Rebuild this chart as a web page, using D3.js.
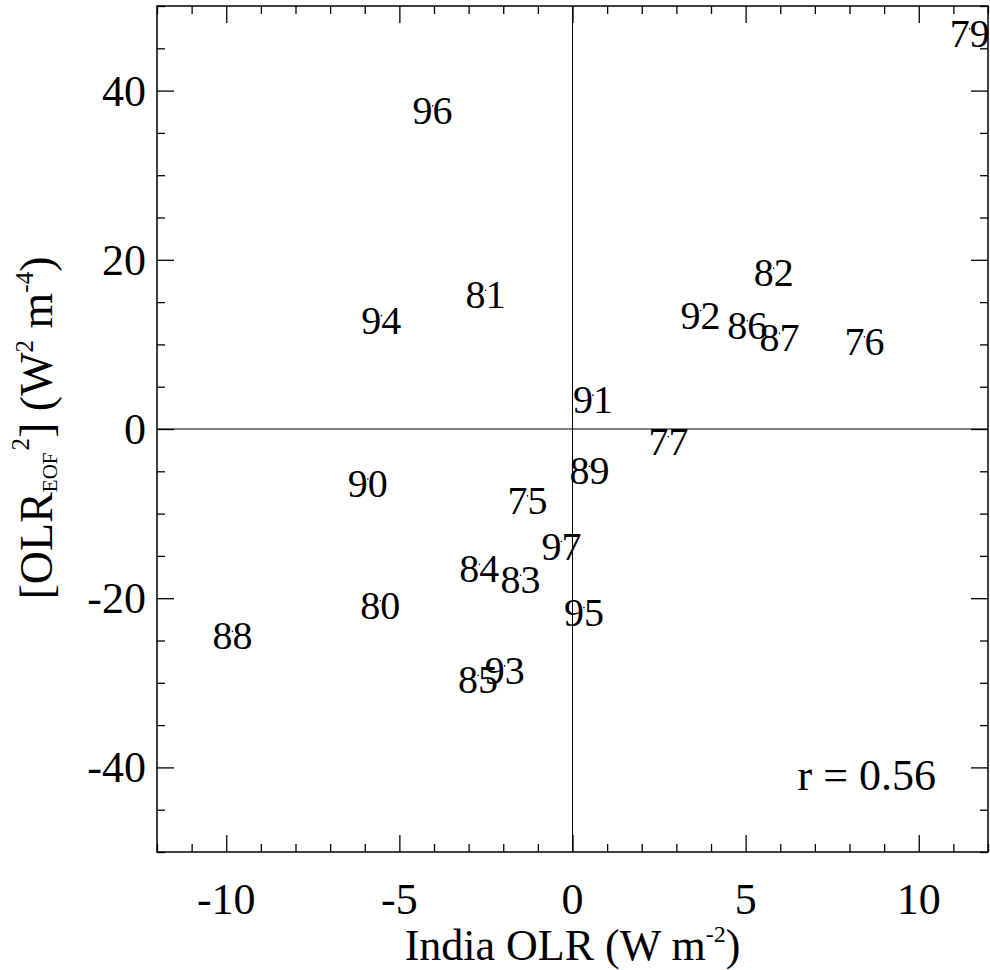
<!DOCTYPE html>
<html>
<head>
<meta charset="utf-8">
<script src="https://cdn.jsdelivr.net/npm/d3@7"></script>
<style>
  body { margin: 0; background: #fff; }
  svg text { font-family: "Liberation Serif", "DejaVu Serif", serif; fill: #000; }
</style>
</head>
<body>
<div id="chart"></div>
<script>
// years, India OLR anomaly (x) and [OLR_EOF^2] (y)
var years = ["75", "76", "77", "79", "80", "81", "82", "83", "84", "85", "86", "87", "88",
             "89", "90", "91", "92", "93", "94", "95", "96", "97"];
var indiaOLR = [-1.30, 8.43, 2.77, 11.47, -5.55, -2.51, 5.81, -1.50, -2.69, -2.73, 5.05, 5.98, -9.82,
                0.49, -5.91, 0.59, 3.70, -1.96, -5.52, 0.33, -4.04, -0.32];
var eofOLR = [-7.9, 10.9, -0.9, 47.3, -20.3, 16.4, 19.0, -17.3, -16.0, -29.1, 12.8, 11.3, -23.9,
              -4.4, -5.9, 4.0, 14.0, -28.0, 13.4, -21.1, 38.2, -13.3];
var xTicks = [-10, -5, 0, 5, 10];
var yTicks = [-40, -20, 0, 20, 40];
var corrText = "r = 0.56";

var width = 990,
    height = 970;
var plotL = 157, plotR = 988, plotT = 6, plotB = 852;

var svg = d3.select("#chart").append("svg")
    .attr("width", width)
    .attr("height", height);

var x = d3.scaleLinear().domain([-12, 12]).range([plotL, plotR]);
var y = d3.scaleLinear().domain([-50, 50]).range([plotB, plotT]);

var minorX = d3.range(-12, 13, 1).filter(function (d) { return d % 5 !== 0; });
var minorY = d3.range(-50, 51, 5).filter(function (d) { return d % 20 !== 0; });

// zero lines
svg.append("line")
    .attr("x1", x(0)).attr("x2", x(0))
    .attr("y1", plotT).attr("y2", plotB)
    .attr("stroke", "#000").attr("stroke-width", 1);
svg.append("line")
    .attr("x1", plotL).attr("x2", plotR)
    .attr("y1", y(0)).attr("y2", y(0))
    .attr("stroke", "#000").attr("stroke-width", 1);

// ticks (inward) on all four sides
function tickAxis(axis, tr) {
    var g = svg.append("g").attr("transform", tr).call(axis);
    g.select(".domain").remove();
    g.selectAll("line").attr("stroke", "#000").attr("stroke-width", 1.3);
    g.selectAll("text").remove();
    return g;
}
tickAxis(d3.axisBottom(x).tickValues(xTicks).tickSize(-17), "translate(0," + plotB + ")");
tickAxis(d3.axisBottom(x).tickValues(minorX).tickSize(-8), "translate(0," + plotB + ")");
tickAxis(d3.axisTop(x).tickValues(xTicks).tickSize(-17), "translate(0," + plotT + ")");
tickAxis(d3.axisTop(x).tickValues(minorX).tickSize(-8), "translate(0," + plotT + ")");
tickAxis(d3.axisLeft(y).tickValues(yTicks).tickSize(-17), "translate(" + plotL + ",0)");
tickAxis(d3.axisLeft(y).tickValues(minorY).tickSize(-8), "translate(" + plotL + ",0)");
tickAxis(d3.axisRight(y).tickValues(yTicks).tickSize(-17), "translate(" + plotR + ",0)");
tickAxis(d3.axisRight(y).tickValues(minorY).tickSize(-8), "translate(" + plotR + ",0)");

// frame
svg.append("rect")
    .attr("x", plotL).attr("y", plotT)
    .attr("width", plotR - plotL).attr("height", plotB - plotT)
    .attr("fill", "none").attr("stroke", "#000").attr("stroke-width", 1.5);

// tick labels
svg.append("g").selectAll("text")
    .data(xTicks)
    .enter().append("text")
    .attr("x", function (d) { return x(d); })
    .attr("y", 914)
    .attr("text-anchor", "middle")
    .attr("font-size", 44)
    .text(function (d) { return d; });
svg.append("g").selectAll("text")
    .data(yTicks)
    .enter().append("text")
    .attr("x", 146)
    .attr("y", function (d) { return y(d) + 15; })
    .attr("text-anchor", "end")
    .attr("font-size", 44)
    .text(function (d) { return d; });

// axis titles
var xt = svg.append("text")
    .attr("x", x(0))
    .attr("y", 960)
    .attr("text-anchor", "middle")
    .attr("font-size", 44);
xt.append("tspan").text("India OLR (W m");
xt.append("tspan").attr("font-size", 24).attr("dy", -18).text("-2");
xt.append("tspan").attr("dy", 18).text(")");

var yt = svg.append("text")
    .attr("transform", "translate(52," + (y(0) - 1) + ") rotate(-90)")
    .attr("text-anchor", "middle")
    .attr("font-size", 46);
yt.append("tspan").text("[OLR");
yt.append("tspan").attr("font-size", 21).attr("dy", 5).text("EOF");
yt.append("tspan").attr("font-size", 25).attr("dy", -28).attr("dx", 2).text("2");
yt.append("tspan").attr("dy", 23).text("] (W");
yt.append("tspan").attr("font-size", 25).attr("dy", -19).text("2");
yt.append("tspan").attr("dy", 19).text(" m");
yt.append("tspan").attr("font-size", 25).attr("dy", -19).text("-4");
yt.append("tspan").attr("dy", 19).text(")");

// points: tiny dot + year label
var pts = svg.append("g").selectAll("g")
    .data(years)
    .enter().append("g")
    .attr("transform", function (d, i) {
        return "translate(" + x(indiaOLR[i]) + "," + y(eofOLR[i]) + ")";
    });
pts.append("circle").attr("r", 0.8).attr("fill", "#000");
pts.append("text")
    .attr("text-anchor", "middle")
    .attr("y", 18)
    .attr("font-size", 40)
    .text(function (d) { return d; });

// correlation
svg.append("text")
    .attr("x", 936)
    .attr("y", 790)
    .attr("text-anchor", "end")
    .attr("font-size", 44)
    .text(corrText);
</script>
</body>
</html>
